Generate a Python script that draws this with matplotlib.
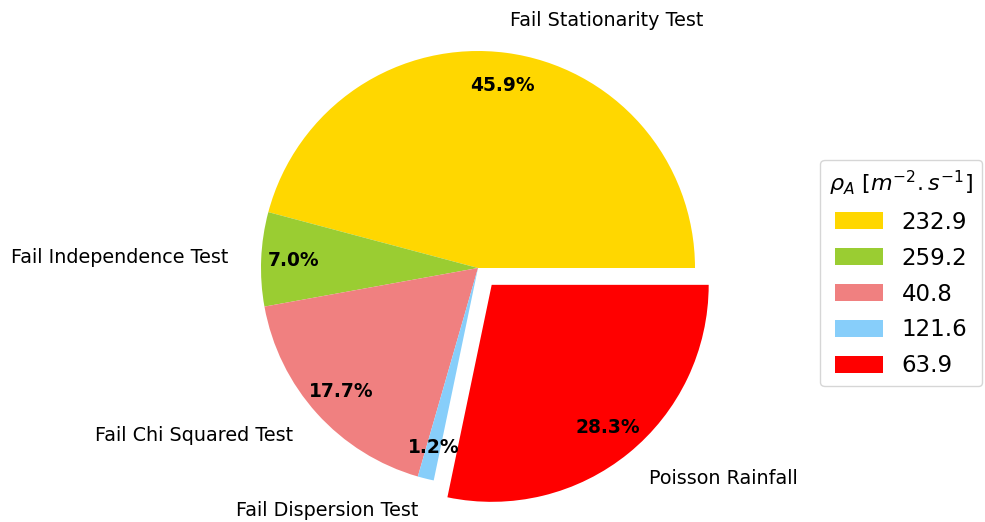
import matplotlib
matplotlib.use("Agg")
import matplotlib.pyplot as plt

labels = ["Fail Stationarity Test", "Fail Independence Test", "Fail Chi Squared Test",
          "Fail Dispersion Test", "Poisson Rainfall"]
shares = [45.9, 7.0, 17.7, 1.2, 28.3]
rho_values = ["232.9", "259.2", "40.8", "121.6", "63.9"]
colors = ["gold", "yellowgreen", "lightcoral", "lightskyblue", "red"]
explode = [0, 0, 0, 0, 0.1]

fig = plt.figure(figsize=(9.85, 5.22), dpi=100)
ax = fig.add_axes([0, 0, 1, 1])
wedges, texts, autotexts = ax.pie(shares, labels=labels, colors=colors, explode=explode,
                                  autopct="%1.1f%%", pctdistance=0.85, labeldistance=1.15,
                                  startangle=0, textprops={"fontsize": 13.8})
for t in autotexts:
    t.set_fontweight("bold")
    t.set_fontsize(13.4)

cx, cy, r = 478, 268, 217
ax.set_xlim(-cx / r, (985 - cx) / r)
ax.set_ylim(-(522 - cy) / r, cy / r)
ax.set_aspect("auto")
ax.axis("off")

leg = fig.legend(wedges, rho_values, title=r"$\rho_A\ [m^{-2}.s^{-1}]$",
                 loc="center left", bbox_to_anchor=(0.8325, 0.477), borderaxespad=0,
                 fontsize=16.5, title_fontsize=16, labelspacing=0.56,
                 handlelength=2.1, handleheight=0.75, borderpad=0.4)

fig.savefig("out.png", dpi=100)
